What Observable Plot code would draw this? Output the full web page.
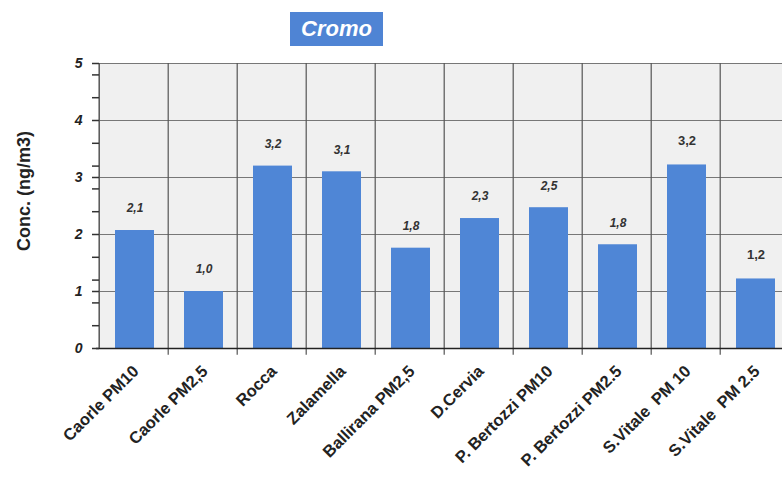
<!DOCTYPE html>
<html>
<head>
<meta charset="utf-8">
<script src="https://cdn.jsdelivr.net/npm/d3@7"></script>
<script src="https://cdn.jsdelivr.net/npm/@observablehq/plot@0.6"></script>
<style>
  html, body { margin: 0; padding: 0; background: #fff; }
  body { width: 782px; height: 487px; overflow: hidden; font-family: "Liberation Sans", Arial, sans-serif; }
  #title { position: relative; height: 50px; }
  #title span { position: absolute; left: 290px; top: 12px; width: 93px; height: 34px; background: #4f84d4; color: #fff;
    font-weight: bold; font-style: italic; font-size: 22px; line-height: 34px; text-align: center; }
  svg { overflow: visible; }
</style>
</head>
<body>
<div id="title"><span>Cromo</span></div>
<div id="chart"></div>
<script>
const categories = ["Caorle PM10", "Caorle PM2,5", "Rocca", "Zalamella", "Ballirana PM2,5", "D.Cervia", "P. Bertozzi PM10", "P. Bertozzi PM2.5", "S.Vitale  PM 10", "S.Vitale  PM 2.5"];
const values = [2.07, 1.0, 3.2, 3.1, 1.76, 2.28, 2.47, 1.82, 3.22, 1.22];
const valueLabels = ["2,1", "1,0", "3,2", "3,1", "1,8", "2,3", "2,5", "1,8", "3,2", "1,2"];
const yTicks = [0, 1, 2, 3, 4, 5];
const yMinorTicks = [0.4, 0.8, 1.2, 1.6, 2.4, 2.8, 3.2, 3.6, 4.4, 4.8];
const yLabel = "Conc. (ng/m3)";

const data = categories.map((c, i) => ({cat: c, value: values[i], label: valueLabels[i], italic: i < 8}));

const width = 782, height = 437, marginLeft = 96, marginRight = -10, marginTop = 13, marginBottom = 139;
const bw = (width - marginLeft - marginRight) / categories.length;

const chart = Plot.plot({
  width, height, marginLeft, marginRight, marginTop, marginBottom,
  style: {fontFamily: "Liberation Sans, Arial, sans-serif", background: "transparent", overflow: "visible"},
  x: {domain: categories, padding: 0},
  y: {domain: [0, 5]},
  marks: [
    Plot.barY(categories, {x: d => d, y1: 0, y2: 5, fill: "#f0f0f0"}),
    Plot.ruleY(yTicks.filter(d => d > 0), {y: d => d, stroke: "#777", strokeWidth: 1.2}),
    Plot.ruleX(categories.slice(1), {x: d => d, dx: -bw / 2, y1: -0.12, y2: 5, stroke: "#555", strokeWidth: 1.2}),
    Plot.barY(data, {x: "cat", y: "value", fill: "#4f86d6", insetLeft: 16, insetRight: 14}),
    Plot.text(data.filter(d => d.italic), {x: "cat", y: "value", text: "label", dy: -22, dx: 1, fontStyle: "italic", fontWeight: "bold", fontSize: 12, fill: "#333"}),
    Plot.text(data.filter(d => !d.italic), {x: "cat", y: "value", text: "label", dy: -24, dx: 1, fontWeight: "bold", fontSize: 13, fill: "#333"}),
    Plot.ruleY([0], {stroke: "#222", strokeWidth: 1.5}),
    Plot.ruleX([categories[0]], {x: d => d, dx: -bw / 2, y1: 0, y2: 5, stroke: "#555", strokeWidth: 1.5}),
    Plot.axisY({ticks: yTicks, tickSize: 0, tickPadding: 14, tickFormat: d3.format("d"), fontSize: 14, fontWeight: "bold", fontStyle: "italic", label: null, fill: "#222"}),
    Plot.axisY({ticks: yTicks.concat(yMinorTicks), tickSize: 7, dx: 3, tickFormat: () => "", label: null, stroke: "#333", strokeWidth: 1.5}),
    Plot.axisX({tickSize: 0, tickPadding: 20, tickRotate: -45, fontSize: 16.5, fontWeight: "bold", label: null, fill: "#222", dx: 2}),
    Plot.text([yLabel], {frameAnchor: "left", textAnchor: "middle", text: d => d, rotate: -90, dx: -72, dy: -15, fontSize: 18, fontWeight: "bold", fill: "#222"})
  ]
});
document.getElementById("chart").appendChild(chart);
</script>
</body>
</html>
